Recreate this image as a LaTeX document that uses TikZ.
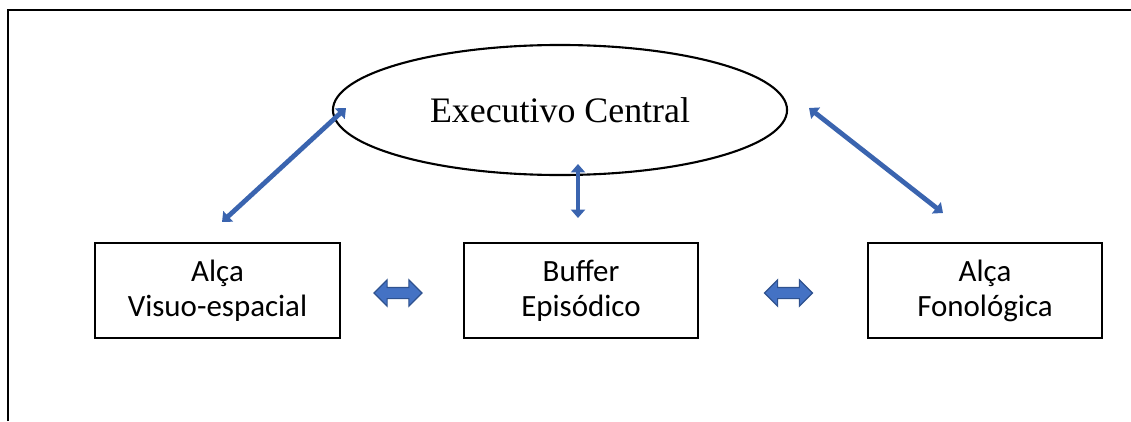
\documentclass[tikz,border=0pt]{standalone}
\usepackage{fontspec}
\setmainfont{Liberation Serif}
\newfontfamily\boxfont{Carlito}
\usetikzlibrary{arrows.meta,positioning,calc,shapes.geometric,shapes.arrows}
\definecolor{Arrow}{HTML}{4472C4}
\definecolor{ArrowEdge}{HTML}{2F528F}
\definecolor{ArrowMid}{HTML}{3A64AF}
\tikzset{
  oval/.style={ellipse,draw=black,line width=1.5pt,fill=white,minimum width=11.35cm,minimum height=3.25cm,inner sep=0pt,font=\fontsize{25.5}{28}\selectfont},
  comp/.style={rectangle,draw=black,line width=1.4pt,minimum height=2.375cm,inner sep=0pt,align=center,font=\boxfont\fontsize{22}{25}\selectfont},
  link/.style={draw=ArrowMid,line width=3.4pt,{Triangle[width=10pt,length=6pt]}-{Triangle[width=10pt,length=6pt]}},
  dblarr/.style={double arrow,draw=ArrowEdge,fill=Arrow,line width=.8pt,inner sep=.125cm,minimum height=1.2cm,double arrow head extend=.19cm,double arrow head indent=0pt}
}
\begin{document}
\begin{tikzpicture}[x=0.025cm,y=-0.025cm]
  \useasboundingbox (0,0) rectangle (1131,421);
  \draw[line width=.8pt] (8,421) -- (8,10) -- (1131,10);
  % components
  \node[oval] (exec) at (560,110) {Executivo Central};
  \node[comp,minimum width=6.125cm] (visuo) at (217.5,290.5) {Alça\\Visuo-espacial};
  \node[comp,minimum width=5.85cm] (buffer) at (581,290.5) {Buffer\\Episódico};
  \node[comp,minimum width=5.85cm] (fono) at (985,290.5) {Alça\\Fonológica};
  % connectors
  \coordinate (vl) at (222,222); \coordinate (el) at (346,108);
  \coordinate (eb) at (578,164); \coordinate (bt) at (578,218);
  \coordinate (er) at (809,108); \coordinate (fr) at (943,213);
  \draw[link] (vl) -- (el);
  \draw[link] (eb) -- (bt);
  \draw[link] (er) -- (fr);
  \node[dblarr] (vb) at (398,293) {};
  \node[dblarr] (bf) at (788.5,293) {};
\end{tikzpicture}
\end{document}
